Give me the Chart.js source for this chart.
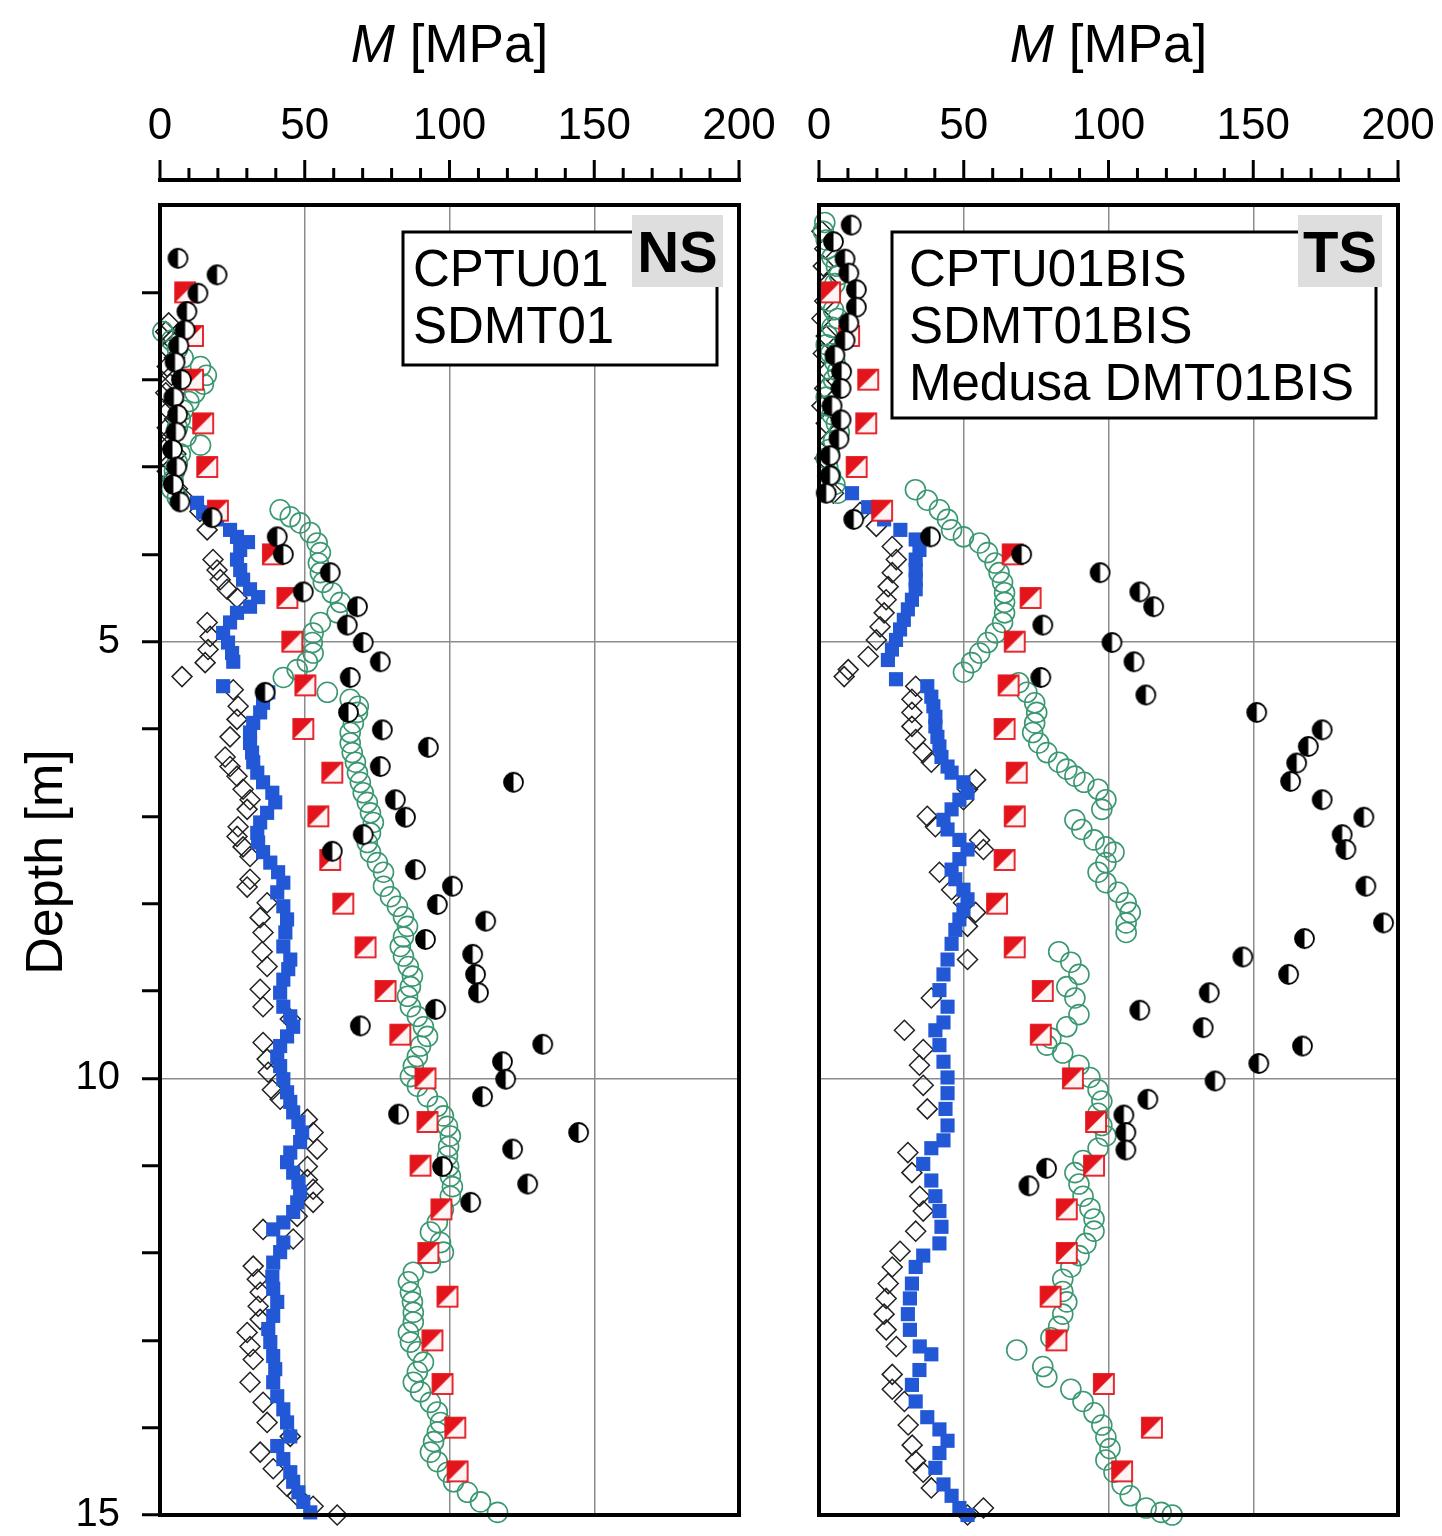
<!DOCTYPE html>
<html lang="en">
<head>
    <meta charset="UTF-8">
    <title>M profiles NS / TS</title>
    <script src="https://cdn.jsdelivr.net/npm/chart.js"></script>
    <style>
        html, body {
            margin: 0;
            overflow: hidden;
            background-color: #fff;
        }
        #wrap {
            position: relative;
            width: 1442px;
            height: 1536px;
        }
        canvas {
            position: absolute;
            top: 0;
        }
        #ns { left: 0; }
        #ts { left: 780px; }
    </style>
</head>
<body>
    <div id="wrap">
        <canvas id="ns" width="780" height="1580"></canvas>
        <canvas id="ts" width="662" height="1580"></canvas>
    </div>

    <script>
        // axis ticks
        const mTicks = [0, 50, 100, 150, 200];
        const depthLabels = [5, 10, 15];

        // ---- NS panel (CPTU01 / SDMT01) ----
        const nsHalfDepth = [0.61,0.80,1.01,1.22,1.43,1.61,1.80,2.00,2.20,2.40,2.60,2.80,3.00,3.20,3.40,3.58,3.80,4.00,4.21,4.43,4.60,4.81,5.01,5.23,5.41,5.58,5.81,6.01,6.21,6.43,6.61,6.81,7.01,7.21,7.40,7.61,7.80,8.01,8.20,8.41,8.58,8.81,9.02,9.21,9.40,9.61,9.81,10.01,10.21,10.41,10.62,10.81,11.01,11.21,11.42];
        const nsHalfM = [6.2,19.7,13.1,9.3,8.7,6.5,5.2,7.4,4.8,6.1,5.5,4.3,5.8,4.6,6.9,18.0,40.5,42.6,58.8,49.5,68.2,64.7,70.2,76.1,65.7,36.3,65.1,76.8,92.7,76.1,122.1,81.3,84.8,70.2,59.5,88.2,101.0,95.8,112.5,91.7,108.0,109.0,110.0,95.2,69.2,132.2,118.3,119.4,111.4,82.4,144.6,121.8,97.6,127.0,107.3];

        const nsSquareDepth = [1.0,1.5,2.0,2.5,3.0,3.5,4.0,4.5,5.0,5.5,6.0,6.5,7.0,7.5,8.0,8.5,9.0,9.5,10.0,10.5,11.0,11.5,12.0,12.5,13.0,13.5,14.0,14.5];
        const nsSquareM = [8.7,11.4,11.4,14.9,16.3,20.0,39.0,44.0,45.7,50.2,49.5,59.5,54.7,58.8,63.3,71.0,77.9,83.0,91.7,92.4,90.0,97.2,92.7,99.3,94.1,97.6,102.0,102.8];

        const nsCircleDepth = [1.45,1.55,1.65,1.75,1.85,1.95,2.05,2.15,2.25,2.35,2.45,2.55,2.65,2.75,2.85,2.95,3.05,3.15,3.25,3.35,3.49,3.57,3.64,3.75,3.87,3.98,4.10,4.21,4.32,4.44,4.55,4.67,4.78,4.90,5.01,5.13,5.23,5.32,5.41,5.58,5.66,5.74,5.81,5.93,6.04,6.16,6.27,6.38,6.50,6.61,6.73,6.84,6.96,7.07,7.19,7.30,7.41,7.53,7.64,7.80,7.92,8.03,8.15,8.26,8.38,8.49,8.60,8.72,8.83,8.95,9.06,9.18,9.29,9.41,9.52,9.63,9.75,9.86,9.98,10.09,10.21,10.32,10.43,10.55,10.66,10.78,10.89,11.01,11.12,11.24,11.35,11.50,11.65,11.76,11.88,11.99,12.11,12.22,12.33,12.45,12.56,12.68,12.79,12.91,13.02,13.13,13.25,13.36,13.48,13.59,13.71,13.82,13.94,14.05,14.16,14.28,14.39,14.51,14.62,14.74,14.85,14.97];
        const nsCircleM = [1.0,4.0,6.0,8.0,14.0,16.0,15.0,12.0,10.0,8.0,7.0,6.0,9.0,14.0,7.0,6.0,5.0,4.5,4.0,6.0,41.5,45.0,48.4,51.9,54.3,55.4,54.7,55.4,56.4,59.5,62.3,61.2,55.4,52.9,52.6,52.9,50.9,47.4,42.6,57.8,65.7,68.5,68.2,66.8,65.7,65.7,66.4,67.5,68.2,69.2,70.2,71.6,72.7,73.7,72.7,71.6,72.7,75.1,77.2,77.2,79.6,82.0,84.1,85.5,84.1,83.0,84.1,85.8,87.2,86.5,85.5,86.5,88.9,91.0,92.4,90.0,88.9,87.5,86.5,88.9,92.4,95.8,97.9,99.3,100.3,99.7,99.3,99.7,100.3,101.0,100.3,97.9,95.8,93.4,96.9,97.9,93.4,87.5,85.8,86.5,87.2,87.5,87.5,85.8,86.5,88.9,91.0,88.9,87.5,90.0,93.4,95.8,96.9,95.8,94.5,93.4,95.8,99.3,101.4,106.2,110.7,116.6];

        const nsBlueDepth = [3.41,3.52,3.60,3.72,3.80,3.86,3.95,4.06,4.18,4.29,4.40,4.49,4.60,4.67,4.78,4.90,5.01,5.13,5.23,5.51,5.58,5.70,5.81,5.93,6.04,6.16,6.27,6.38,6.50,6.61,6.73,6.84,6.96,7.07,7.19,7.30,7.41,7.53,7.64,7.76,7.87,8.03,8.18,8.33,8.49,8.64,8.75,8.87,9.02,9.18,9.29,9.41,9.52,9.63,9.75,9.86,10.01,10.16,10.27,10.39,10.50,10.62,10.73,10.85,10.96,11.08,11.19,11.30,11.42,11.53,11.65,11.73,11.88,11.99,12.11,12.27,12.41,12.56,12.72,12.87,13.02,13.18,13.33,13.48,13.64,13.79,13.94,14.10,14.21,14.36,14.51,14.62,14.74,14.85,14.97];
        const nsBlueM = [12.8,14.9,19.7,24.2,26.6,30.4,27.7,26.6,27.7,28.7,31.1,33.9,31.1,26.6,24.2,21.8,23.5,24.9,25.3,21.8,37.4,35.6,34.6,32.2,31.1,31.1,31.8,32.2,33.6,35.6,38.8,39.8,37.0,34.6,33.6,33.9,35.6,38.1,40.8,42.6,40.5,42.6,43.9,43.3,42.6,45.0,44.3,42.6,41.5,42.6,45.0,46.0,43.9,41.5,40.5,41.5,42.6,43.9,45.0,46.0,47.8,49.1,48.4,45.0,43.9,46.0,47.8,48.4,47.4,46.0,42.6,39.1,42.6,41.5,39.1,38.8,39.1,40.5,39.1,37.4,38.1,39.1,39.8,39.1,40.5,42.6,43.9,45.0,40.5,42.6,45.0,46.0,47.8,49.5,51.9];

        const nsDiamondDepth = [1.35,1.45,1.55,1.65,1.75,1.85,1.95,2.05,2.15,2.25,2.35,2.45,2.55,2.65,2.75,2.85,2.95,3.05,3.15,3.25,3.35,3.51,3.72,4.06,4.18,4.29,4.40,4.50,4.78,4.94,5.09,5.24,5.40,5.55,5.74,5.89,6.09,6.32,6.43,6.54,6.69,6.81,6.92,7.12,7.23,7.35,7.46,7.72,7.81,7.99,8.16,8.33,8.55,8.72,8.98,9.18,9.32,9.59,9.78,9.93,10.13,10.24,10.47,10.62,10.81,11.01,11.16,11.27,11.42,11.58,11.73,11.84,12.15,12.30,12.45,12.61,12.76,12.91,13.07,13.22,13.48,13.71,13.94,14.10,14.28,14.47,14.67,14.78,14.90,15.0];
        const nsDiamondM = [3,2,4,3,5,2.5,4,3.5,2,4.5,3,5,2.5,4,3,5.5,3.5,2.5,4,6,8,13.8,16.3,18.3,19.7,20.8,23.2,26.6,16.3,17.3,16.6,15.6,7.6,25.3,27.0,26.6,24.2,22.5,24.2,26.6,28.7,31.1,30.1,27.0,26.6,28.7,31.1,31.1,30.1,37.0,34.6,35.6,35.3,37.0,34.6,35.6,45.0,35.6,37.0,37.4,38.8,41.5,50.9,52.9,54.3,50.9,50.9,52.9,52.9,47.4,35.6,46.0,32.2,33.6,34.6,33.9,34.6,30.1,31.1,32.2,31.1,35.6,37.0,45.0,34.6,39.1,43.9,47.4,52.9,61.2];

        // ---- TS panel (CPTU01BIS / SDMT01BIS / Medusa DMT01BIS) ----
        const tsHalfDepth = [0.23,0.42,0.62,0.78,0.97,1.17,1.35,1.55,1.72,1.91,2.10,2.30,2.46,2.68,2.87,3.10,3.30,3.60,3.80,4.00,4.21,4.43,4.60,4.81,5.01,5.23,5.41,5.61,5.81,6.01,6.20,6.39,6.60,6.81,7.01,7.21,7.38,7.80,8.22,8.40,8.61,8.81,9.02,9.22,9.42,9.63,9.83,10.03,10.24,10.42,10.62,10.82,11.03,11.23];
        const tsHalfM = [11.1,5.0,9.0,10.3,12.9,12.9,10.3,9.0,5.5,7.8,7.6,4.5,7.6,6.9,3.8,3.8,2.5,12.0,38.5,70.0,97.1,110.8,115.6,77.3,101.2,108.8,76.6,112.9,151.2,173.8,169.0,165.0,162.9,173.8,188.2,180.7,182.0,188.9,195.0,167.7,146.4,162.2,134.8,110.8,132.7,167.0,151.9,136.8,113.6,105.3,106.0,106.0,78.6,72.5];

        const tsSquareDepth = [1.0,1.5,2.0,2.5,3.0,3.5,4.0,4.5,5.0,5.5,6.0,6.5,7.0,7.5,8.0,8.5,9.0,9.5,10.0,10.5,11.0,11.5,12.0,12.5,13.0,13.5,14.0,14.5];
        const tsSquareM = [3.8,10.4,17.0,16.3,13.0,21.8,66.9,73.1,67.6,65.5,64.1,68.3,67.6,64.1,61.5,67.6,77.3,76.6,87.7,95.7,95.0,85.6,85.6,80.0,82.0,98.4,115.0,104.7];

        const tsCircleDepth = [0.2,0.3,0.4,0.5,0.6,0.7,0.8,0.9,1.0,1.1,1.2,1.3,1.4,1.5,1.6,1.7,1.8,1.9,2.0,2.1,2.2,2.3,2.4,2.5,2.6,2.7,2.8,2.9,3.0,3.1,3.2,3.3,3.26,3.38,3.49,3.60,3.72,3.80,3.87,3.98,4.10,4.21,4.32,4.44,4.55,4.67,4.78,4.90,5.01,5.13,5.24,5.35,5.47,5.58,5.70,5.81,5.93,6.04,6.16,6.27,6.38,6.46,6.54,6.61,6.69,6.81,6.92,7.04,7.15,7.27,7.35,7.41,7.53,7.64,7.76,7.87,7.99,8.10,8.22,8.33,8.55,8.67,8.81,8.95,9.08,9.27,9.41,9.54,9.62,9.71,9.85,9.99,10.13,10.26,10.40,10.54,10.66,10.80,10.94,11.08,11.21,11.35,11.49,11.61,11.75,11.89,12.03,12.16,12.30,12.44,12.56,12.70,12.84,12.97,13.11,13.30,13.42,13.56,13.70,13.83,13.97,14.11,14.24,14.37,14.51,14.65,14.78,14.92,14.97,15.0];
        const tsCircleM = [2,1.5,2.5,3,4.5,6,7,5.5,4,3.5,5,6.5,4.5,3,2.5,4,5.5,6.5,5,3.5,2.5,3,4.5,6,7,5,3.5,2.5,3,4,5.5,6.5,33.3,37.4,41.6,44.4,45.8,49.9,55.5,58.2,60.8,62.2,63.4,64.1,64.1,64.1,63.4,61.0,58.2,55.5,52.7,49.9,69.0,71.8,74.5,75.2,74.5,73.8,75.9,78.7,82.8,85.6,88.4,91.5,96.4,99.1,97.7,88.4,90.8,95.0,99.1,101.9,99.1,96.4,99.1,103.3,106.1,107.5,106.1,106.1,82.8,87.0,89.8,85.6,88.4,89.8,85.6,80.1,78.7,84.2,89.8,93.6,96.4,97.7,96.4,97.7,99.1,96.4,91.2,88.4,89.8,91.2,93.6,95.0,95.0,92.2,89.8,87.0,84.2,84.2,85.6,84.2,82.8,80.1,68.3,77.3,78.7,87.0,91.2,95.0,97.7,99.1,100.5,99.1,101.9,104.7,107.5,113.0,118.2,122.0];

        const tsBlueDepth = [3.30,3.46,3.60,3.72,3.83,3.95,4.06,4.18,4.29,4.40,4.52,4.63,4.75,4.86,4.98,5.09,5.21,5.43,5.51,5.63,5.74,5.86,5.97,6.09,6.20,6.32,6.43,6.50,6.61,6.73,6.81,6.92,7.04,7.15,7.27,7.38,7.49,7.61,7.72,7.84,7.95,8.07,8.18,8.30,8.46,8.64,8.81,8.99,9.18,9.36,9.45,9.62,9.81,9.99,10.17,10.35,10.54,10.71,10.80,10.98,11.17,11.35,11.52,11.70,11.89,12.03,12.16,12.35,12.52,12.70,12.88,13.07,13.16,13.34,13.51,13.70,13.88,14.02,14.15,14.29,14.46,14.65,14.78,14.92,15.0];
        const tsBlueM = [11.4,17.0,22.5,28.1,33.4,34.7,33.4,33.4,33.4,33.4,32.1,30.7,29.3,28.0,26.6,25.2,23.8,26.6,37.4,38.8,39.5,40.2,40.2,40.9,41.6,42.3,44.4,45.8,49.9,51.3,48.5,45.8,43.0,44.4,48.5,51.3,48.5,45.8,47.1,49.9,51.3,49.9,48.5,47.1,45.8,44.4,43.0,41.6,44.4,43.0,40.2,41.6,43.0,44.4,44.4,43.7,44.4,43.0,38.8,36.0,38.8,40.2,41.6,42.3,41.6,36.0,33.4,32.1,31.4,30.7,31.4,34.8,38.8,34.7,32.1,33.4,37.4,41.6,44.4,41.6,40.2,43.0,45.8,48.5,51.3];

        const tsDiamondDepth = [0.30,0.50,0.70,0.90,1.10,1.30,1.50,1.70,1.90,2.10,2.30,2.50,2.70,2.90,3.10,3.30,3.52,3.68,3.91,4.06,4.21,4.37,4.52,4.67,4.83,4.98,5.17,5.32,5.40,5.51,5.66,5.81,5.97,6.12,6.27,6.38,6.58,6.69,6.81,7.00,7.12,7.27,7.38,7.64,7.84,7.99,8.10,8.26,8.64,9.08,9.45,9.67,9.85,10.08,10.35,10.85,11.08,11.35,11.52,11.75,11.98,12.16,12.35,12.52,12.70,12.88,13.07,13.39,13.56,13.70,13.97,14.20,14.38,14.51,14.69,14.92,15.0];
        const tsDiamondM = [1,2,1.5,3,2,1,2.5,1.5,3,2,1,2.5,3.5,2,3,5,14.2,19.8,25.3,26.7,25.3,23.9,23.2,22.5,21.1,19.8,17.0,10.1,8.7,33.4,32.1,32.1,32.1,33.4,36.0,38.8,54.1,51.3,49.9,37.4,40.2,55.5,56.8,41.6,45.8,49.9,54.1,51.3,51.3,38.8,29.5,36.0,34.7,36.0,37.4,30.7,32.1,34.8,36.0,33.4,28.0,25.3,23.9,23.2,22.5,23.2,26.7,25.3,25.3,29.5,30.8,32.2,33.4,36.0,38.8,56.8,51.3];

        const FONT = "'Liberation Sans', Arial, sans-serif";

        function pts(depth, m) {
            return depth.map((d, i) => ({ x: m[i], y: d }));
        }

        // half black / half white circle marker
        function halfCircle(r) {
            const c = document.createElement('canvas');
            const s = Math.ceil(2 * r + 4);
            c.width = c.height = s;
            const g = c.getContext('2d');
            const m = s / 2;
            g.fillStyle = '#fff';
            g.beginPath(); g.arc(m, m, r, 0, 2 * Math.PI); g.fill();
            g.fillStyle = '#000';
            g.beginPath(); g.arc(m, m, r, Math.PI / 2, Math.PI * 1.5); g.closePath(); g.fill();
            g.lineWidth = 1.8; g.strokeStyle = '#000';
            g.beginPath(); g.arc(m, m, r, 0, 2 * Math.PI); g.stroke();
            return c;
        }

        // square split on the diagonal, red top-left
        function splitSquare(a) {
            const c = document.createElement('canvas');
            const s = a + 4;
            c.width = c.height = s;
            const g = c.getContext('2d');
            const o = 2;
            g.fillStyle = '#fff4f4';
            g.fillRect(o, o, a, a);
            g.fillStyle = '#e3141b';
            g.beginPath(); g.moveTo(o, o); g.lineTo(o + a, o); g.lineTo(o, o + a); g.closePath(); g.fill();
            g.strokeStyle = '#e3141b'; g.lineWidth = 1.8;
            g.strokeRect(o, o, a, a);
            return c;
        }

        const halfImg = halfCircle(9.5);
        const squareImg = splitSquare(20);

        function makeDatasets(p) {
            return [
                { label: p.names[0], data: pts(p.halfD, p.halfM), pointStyle: halfImg, pointRadius: 10, clip: false },
                { label: p.names[1], data: pts(p.sqD, p.sqM), pointStyle: squareImg, pointRadius: 10, clip: false },
                { label: 'blue', data: pts(p.blueD, p.blueM), pointStyle: 'rect', pointRadius: 10, backgroundColor: '#2258d6', borderColor: '#2258d6', borderWidth: 0, clip: false },
                { label: 'green', data: pts(p.circD, p.circM), pointStyle: 'circle', pointRadius: 10, backgroundColor: 'rgba(0,0,0,0)', borderColor: '#3a9870', borderWidth: 1.6, clip: false },
                { label: 'diamond', data: pts(p.diaD, p.diaM), pointStyle: 'rectRot', pointRadius: 10, backgroundColor: 'rgba(0,0,0,0)', borderColor: '#222', borderWidth: 1.5, clip: false }
            ];
        }

        // frame, separate top axis, title and legend text
        function panelPlugin(p) {
            return {
                id: 'panel',
                afterDatasetsDraw(chart) {
                    const ctx = chart.ctx;
                    const a = chart.chartArea;
                    const xs = chart.scales.x;
                    ctx.save();
                    ctx.strokeStyle = '#000';
                    ctx.lineWidth = 4;
                    ctx.strokeRect(a.left, a.top, a.right - a.left, a.bottom - a.top);

                    // top axis line with major/minor ticks
                    const ay = a.top - 25;
                    ctx.beginPath();
                    ctx.moveTo(xs.getPixelForValue(0) - 2, ay);
                    ctx.lineTo(xs.getPixelForValue(200) + 2, ay);
                    ctx.stroke();
                    ctx.lineWidth = 3;
                    for (let v = 0; v <= 200; v += 10) {
                        const px = xs.getPixelForValue(v);
                        const len = mTicks.includes(v) ? 20 : 12;
                        ctx.beginPath();
                        ctx.moveTo(px, ay);
                        ctx.lineTo(px, ay - len);
                        ctx.stroke();
                    }

                    // title "M [MPa]" with italic M
                    const cx = (a.left + a.right) / 2;
                    ctx.fillStyle = '#000';
                    ctx.textBaseline = 'alphabetic';
                    ctx.font = 'italic 53px ' + FONT;
                    const w1 = ctx.measureText('M').width;
                    ctx.font = '53px ' + FONT;
                    const w2 = ctx.measureText(' [MPa]').width;
                    const x0 = cx - (w1 + w2) / 2;
                    ctx.font = 'italic 53px ' + FONT;
                    ctx.textAlign = 'left';
                    ctx.fillText('M', x0, 62);
                    ctx.font = '53px ' + FONT;
                    ctx.fillText(' [MPa]', x0 + w1, 62);

                    // legend box (text only)
                    const L = p.legend;
                    ctx.fillStyle = '#fff';
                    ctx.fillRect(a.right - L.left, a.top + 27, L.left - 22, L.height);
                    ctx.lineWidth = 3;
                    ctx.strokeRect(a.right - L.left, a.top + 27, L.left - 22, L.height);
                    ctx.fillStyle = '#000';
                    ctx.font = '51px ' + FONT;
                    L.lines.forEach((t, i) => {
                        ctx.fillText(t, a.right - L.left + L.pad, a.top + 81 + i * 57);
                    });

                    // site tag
                    ctx.fillStyle = '#dedede';
                    ctx.fillRect(a.right - p.tagW - 16, a.top + 10, p.tagW, 72);
                    ctx.fillStyle = '#000';
                    ctx.font = 'bold 58px ' + FONT;
                    ctx.textAlign = 'center';
                    ctx.fillText(p.tag, a.right - 16 - p.tagW / 2, a.top + 67);

                    if (p.depthTitle) {
                        ctx.save();
                        ctx.translate(62, 862);
                        ctx.rotate(-Math.PI / 2);
                        ctx.font = '52px ' + FONT;
                        ctx.textAlign = 'center';
                        ctx.fillText('Depth [m]', 0, 0);
                        ctx.restore();
                    }
                    ctx.restore();
                }
            };
        }

        function makeChart(id, p) {
            const gridX = c => (c.tick && c.tick.value % 50 === 0 && c.tick.value > 0 && c.tick.value < 200) ? '#8c8c8c' : 'rgba(0,0,0,0)';
            const gridY = c => (c.tick && c.tick.value % 5 === 0 && c.tick.value > 0 && c.tick.value < 15) ? '#8c8c8c' : 'rgba(0,0,0,0)';
            return new Chart(document.getElementById(id), {
                type: 'scatter',
                data: { datasets: makeDatasets(p) },
                options: {
                    responsive: false,
                    animation: false,
                    events: [],
                    layout: { padding: { left: p.padLeft, right: p.padRight, top: 0, bottom: 65 } },
                    plugins: { legend: { display: false }, tooltip: { enabled: false } },
                    scales: {
                        x: {
                            type: 'linear',
                            position: 'top',
                            min: 0,
                            max: 200,
                            afterFit: s => { s.height = 205; },
                            border: { display: false },
                            // invisible tick length pushes labels up; real ticks drawn in plugin
                            grid: { drawTicks: true, tickLength: 52, tickColor: 'rgba(0,0,0,0)', color: gridX, lineWidth: 1.5 },
                            ticks: {
                                stepSize: 10,
                                autoSkip: false,
                                maxRotation: 0,
                                padding: 0,
                                color: '#000',
                                font: { family: FONT, size: 44 },
                                callback: v => mTicks.includes(v) ? String(v) : ''
                            }
                        },
                        y: {
                            type: 'linear',
                            reverse: true,
                            min: 0,
                            max: 15,
                            afterFit: s => { s.width = p.yWidth; },
                            border: { display: false },
                            grid: {
                                color: gridY,
                                lineWidth: 1.5,
                                drawTicks: p.yTicks,
                                tickLength: 18,
                                tickWidth: 3,
                                tickColor: c => (c.tick && c.tick.value === 0) ? 'rgba(0,0,0,0)' : '#000'
                            },
                            ticks: {
                                display: p.yTicks,
                                stepSize: 1,
                                autoSkip: false,
                                padding: 22,
                                color: '#000',
                                font: { family: FONT, size: 40, lineHeight: 1 },
                                callback: v => depthLabels.includes(v) ? String(v) : ''
                            }
                        }
                    }
                },
                plugins: [panelPlugin(p)]
            });
        }

        makeChart('ns', {
            names: ['CPTU01', 'SDMT01'],
            halfD: nsHalfDepth, halfM: nsHalfM,
            sqD: nsSquareDepth, sqM: nsSquareM,
            circD: nsCircleDepth, circM: nsCircleM,
            blueD: nsBlueDepth, blueM: nsBlueM,
            diaD: nsDiamondDepth, diaM: nsDiamondM,
            padLeft: 0, padRight: 41, yWidth: 160, yTicks: true,
            legend: { left: 336, height: 133, pad: 10, lines: ['CPTU01', 'SDMT01'] },
            tag: 'NS', tagW: 91, depthTitle: true
        });

        makeChart('ts', {
            names: ['CPTU01BIS', 'SDMT01BIS'],
            halfD: tsHalfDepth, halfM: tsHalfM,
            sqD: tsSquareDepth, sqM: tsSquareM,
            circD: tsCircleDepth, circM: tsCircleM,
            blueD: tsBlueDepth, blueM: tsBlueM,
            diaD: tsDiamondDepth, diaM: tsDiamondM,
            padLeft: 39, padRight: 44, yWidth: 0, yTicks: false,
            legend: { left: 506, height: 186, pad: 17, lines: ['CPTU01BIS', 'SDMT01BIS', 'Medusa DMT01BIS'] },
            tag: 'TS', tagW: 84, depthTitle: false
        });
    </script>
</body>
</html>
